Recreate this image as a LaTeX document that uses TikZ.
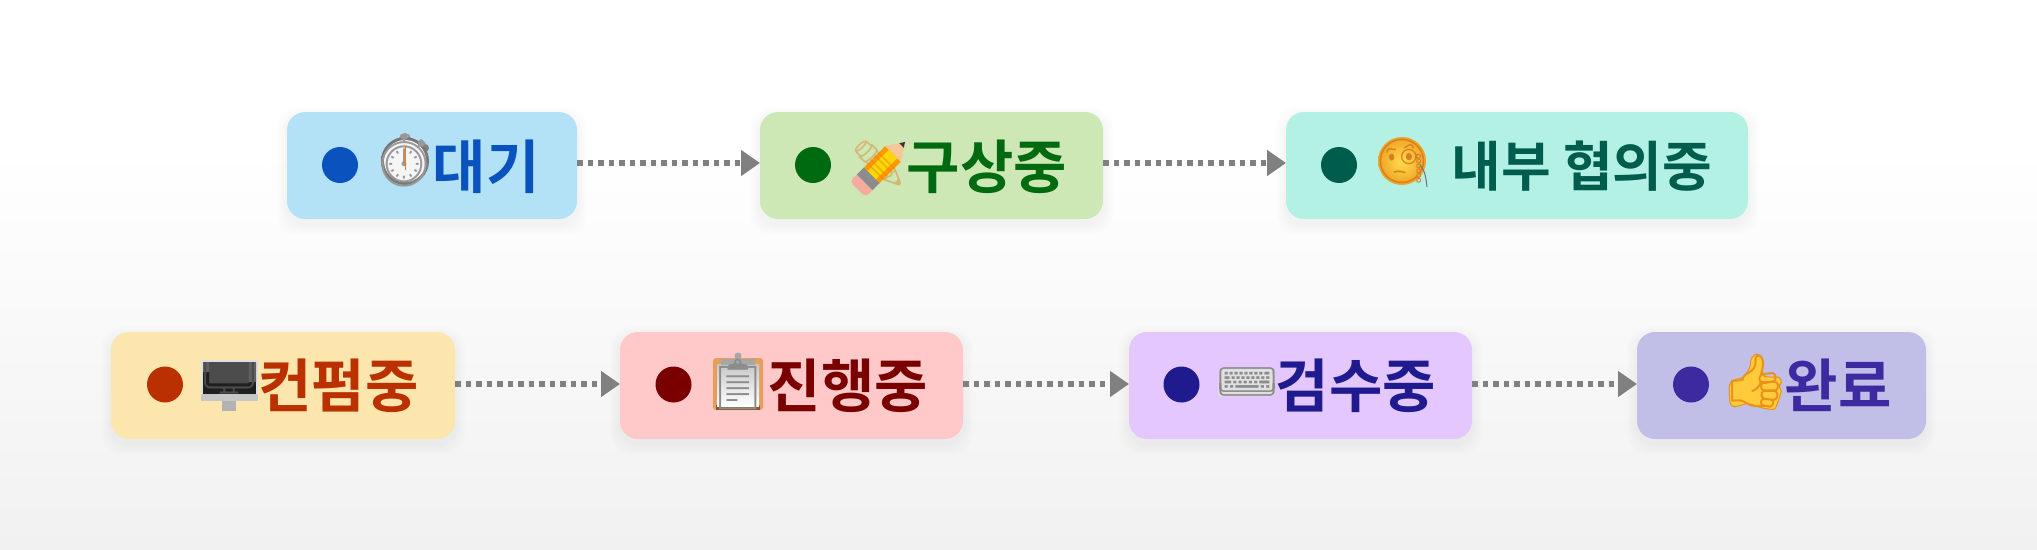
\documentclass[tikz,border=0pt]{standalone}
\usepackage{fontspec}
\usetikzlibrary{arrows.meta,shapes.geometric}
\newfontfamily\krfont[Script=Hangul]{Noto Sans CJK KR Bold}
\newfontfamily\emojifont{Noto Emoji}
\definecolor{bgend}{HTML}{F1F1F1}
\definecolor{arrowgray}{HTML}{808080}
\definecolor{boxa}{HTML}{B3E2F6}\definecolor{inka}{HTML}{0A52BE}
\definecolor{boxb}{HTML}{CDE7B5}\definecolor{inkb}{HTML}{006A10}
\definecolor{boxc}{HTML}{B2F1E3}\definecolor{inkc}{HTML}{005D4E}
\definecolor{boxd}{HTML}{FCE6AE}\definecolor{inkd}{HTML}{BB3000}
\definecolor{boxe}{HTML}{FFC9C9}\definecolor{inke}{HTML}{7A0000}
\definecolor{boxf}{HTML}{E5C7FF}\definecolor{inkf}{HTML}{1F1A8E}
\definecolor{boxg}{HTML}{C1BEE8}\definecolor{inkg}{HTML}{3E2AA0}
\definecolor{thumbfill}{HTML}{FFCB3A}\definecolor{thumbedge}{HTML}{E8921A}
\definecolor{faceedge}{HTML}{F0A420}\definecolor{facefill}{HTML}{FFDC50}
\tikzset{
  x=1pt,y=-1pt,
  stagebox/.style={rounded corners=18pt,inner sep=0pt,outer sep=0pt,minimum height=107pt,anchor=north west},
  dot/.style={circle,inner sep=0pt,minimum size=36pt},
  label/.style={font=\krfont\fontsize{58}{58}\selectfont,inner sep=0pt},
  widelabel/.style={font=\krfont\fontsize{54}{54}\selectfont,inner sep=0pt},
  glyph/.style={font=\emojifont\fontsize{#1}{#1}\selectfont,inner sep=0pt},
  flow/.style={draw=arrowgray,line width=5.5pt,dash pattern=on 5.5pt off 5pt,
    -{Triangle[length=19pt,width=25pt,fill=arrowgray,sep=0pt]}},
}
\newcommand{\softshadow}[4]{%
  \foreach \g in {10,8,6,4,2}{
    \fill[black,opacity=0.008,rounded corners=20pt]
      (#1-\g,#2+5-\g) rectangle (#1+#3+\g,#2+#4+5+\g);}}
\begin{document}
\begin{tikzpicture}
\useasboundingbox (0,0) rectangle (2037,549);
\fill[white] (0,0) rectangle (2037,549);
\fill[top color=white,bottom color=bgend] (0,150) rectangle (2037,549);

\softshadow{287}{112}{290}{107}
\softshadow{760}{112}{343}{107}
\softshadow{1286}{112}{462}{107}
\softshadow{111}{332}{344}{107}
\softshadow{620}{332}{343}{107}
\softshadow{1129}{332}{343}{107}
\softshadow{1637}{332}{289}{107}

\node[stagebox,fill=boxa,minimum width=290pt] (a) at (287,112) {};
\node[stagebox,fill=boxb,minimum width=343pt] (b) at (760,112) {};
\node[stagebox,fill=boxc,minimum width=462pt] (c) at (1286,112) {};
\node[stagebox,fill=boxd,minimum width=344pt] (d) at (111,332) {};
\node[stagebox,fill=boxe,minimum width=343pt] (e) at (620,332) {};
\node[stagebox,fill=boxf,minimum width=343pt] (f) at (1129,332) {};
\node[stagebox,fill=boxg,minimum width=289pt] (g) at (1637,332) {};

\draw[flow] ([yshift=2.5pt]a.east) -- ([yshift=2.5pt]b.west);
\draw[flow] ([yshift=2.5pt]b.east) -- ([yshift=2.5pt]c.west);
\draw[flow] ([yshift=1.5pt]d.east) -- ([yshift=1.5pt]e.west);
\draw[flow] ([yshift=1.5pt]e.east) -- ([yshift=1.5pt]f.west);
\draw[flow] ([yshift=1.5pt]f.east) -- ([yshift=1.5pt]g.west);

\node[dot,fill=inka] (da) at (340,165) {};
\node[dot,fill=inkb] (db) at (813,165) {};
\node[dot,fill=inkc] (dc) at (1339,165) {};
\node[dot,fill=inkd] (dd) at (165,384.5) {};
\node[dot,fill=inke] (de) at (673.5,384.5) {};
\node[dot,fill=inkf] (df) at (1181.5,384.5) {};
\node[dot,fill=inkg] (dg) at (1691,384.5) {};

% stopwatch
\fill[black!50] (425,148) circle (4);
\draw[black!40,line width=2pt] (405,139) circle (5);
\fill[black!40] (400,141) rectangle (410,146);
\shade[inner color=black!20,outer color=black!55] (405,161) circle (24);
\fill[white!96!black] (405,161) circle (21);
\node[glyph=52,text=black!40] (ea) at (405,161) {⏱};
\draw[orange!90!red,line width=.8pt] (405,146) -- (405,170);

% pencil
\begin{scope}[rotate around={45:(881,166)}]
  \fill[red!30!white!85!brown,rounded corners=4pt] (848,155) rectangle (864,177);
  \fill[black!45] (858,155) rectangle (868,177);
  \fill[orange!80!yellow] (868,155) rectangle (898,177);
  \fill[yellow!75!orange] (868,160) rectangle (898,172);
  \fill[orange!35!white!85!brown] (898,155) -- (915,166) -- (898,177) -- cycle;
  \fill[black!80] (910,162.8) -- (915,166) -- (910,169.2) -- cycle;
\end{scope}
\node[glyph=44,text=orange!45!brown,opacity=.45] (eb) at (878,163) {✏};

% monocle face
\shade[inner color=facefill,outer color=faceedge] (1402,161) circle (24);
\node[glyph=44,text=orange!40!brown] (ec) at (1402,161) {🧐};
\draw[black!55,line width=1pt] (1420,165) .. controls (1426,172) and (1426,180) .. (1427,187);

% desktop computer
\fill[black!12] (201,360) rectangle (258,394);
\fill[black!88] (203,362) rectangle (256,394);
\fill[black!62] (203,362) -- (256,362) -- (256,382) -- (240,382) -- (232,372) -- (203,372) -- cycle;
\begin{scope}
  \clip (203,362) rectangle (256,394);
  \node[glyph=52,text=black!70] (ed) at (230,384) {🖥};
\end{scope}
\fill[black!22] (201,394) rectangle (258,401);
\fill[black!30] (222,401) rectangle (236,411);

% clipboard
\fill[brown!55!orange!75!white,rounded corners=3pt] (713,358) rectangle (763,410);
\fill[brown!70!black] (716,405) rectangle (760,410);
\shade[top color=black!22,bottom color=white] (717,364) rectangle (759,406);
\fill[black!35] (721,359) rectangle (755,365);
\fill[black!35] (738,356) circle (3.5);
\node[glyph=50,text=black!45] (ee) at (738,384) {📋};

% keyboard
\fill[black!12,rounded corners=1.5pt] (1219,369) -- (1272,369) -- (1275,396) -- (1218,396) -- cycle;
\node[glyph=50,text=black!45,yscale=.85,transform shape] (ef) at (1247,382) {⌨};

% thumbs up
\fill[thumbfill,draw=thumbedge,line width=1pt,rounded corners=3pt]
  (1751,358) -- (1757,353) -- (1763,358) -- (1762,373) -- (1765,377) -- (1780,377)
  -- (1782,383) -- (1778,386) -- (1782,390) -- (1780,395) -- (1779,400) -- (1777,404)
  -- (1775,410) -- (1762,408) -- (1748,403) -- (1735,407) -- (1730,405) -- (1729,385)
  -- (1733,380) -- (1743,378) -- (1750,368) -- cycle;
\node[glyph=52,text=thumbedge] (eg) at (1755,382) {👍};

\node[label,text=inka] (ta) at (486,166.5) {대기};
\node[label,text=inkb] (tb) at (987,166.5) {구상중};
\node[widelabel,text=inkc] (tc) at (1582,166.5) {내부 협의중};
\node[label,text=inkd] (td) at (338.5,385.5) {컨펌중};
\node[label,text=inke] (te) at (848,385.5) {진행중};
\node[label,text=inkf] (tf) at (1356,385.5) {검수중};
\node[label,text=inkg] (tg) at (1838,385.5) {완료};
\end{tikzpicture}
\end{document}
